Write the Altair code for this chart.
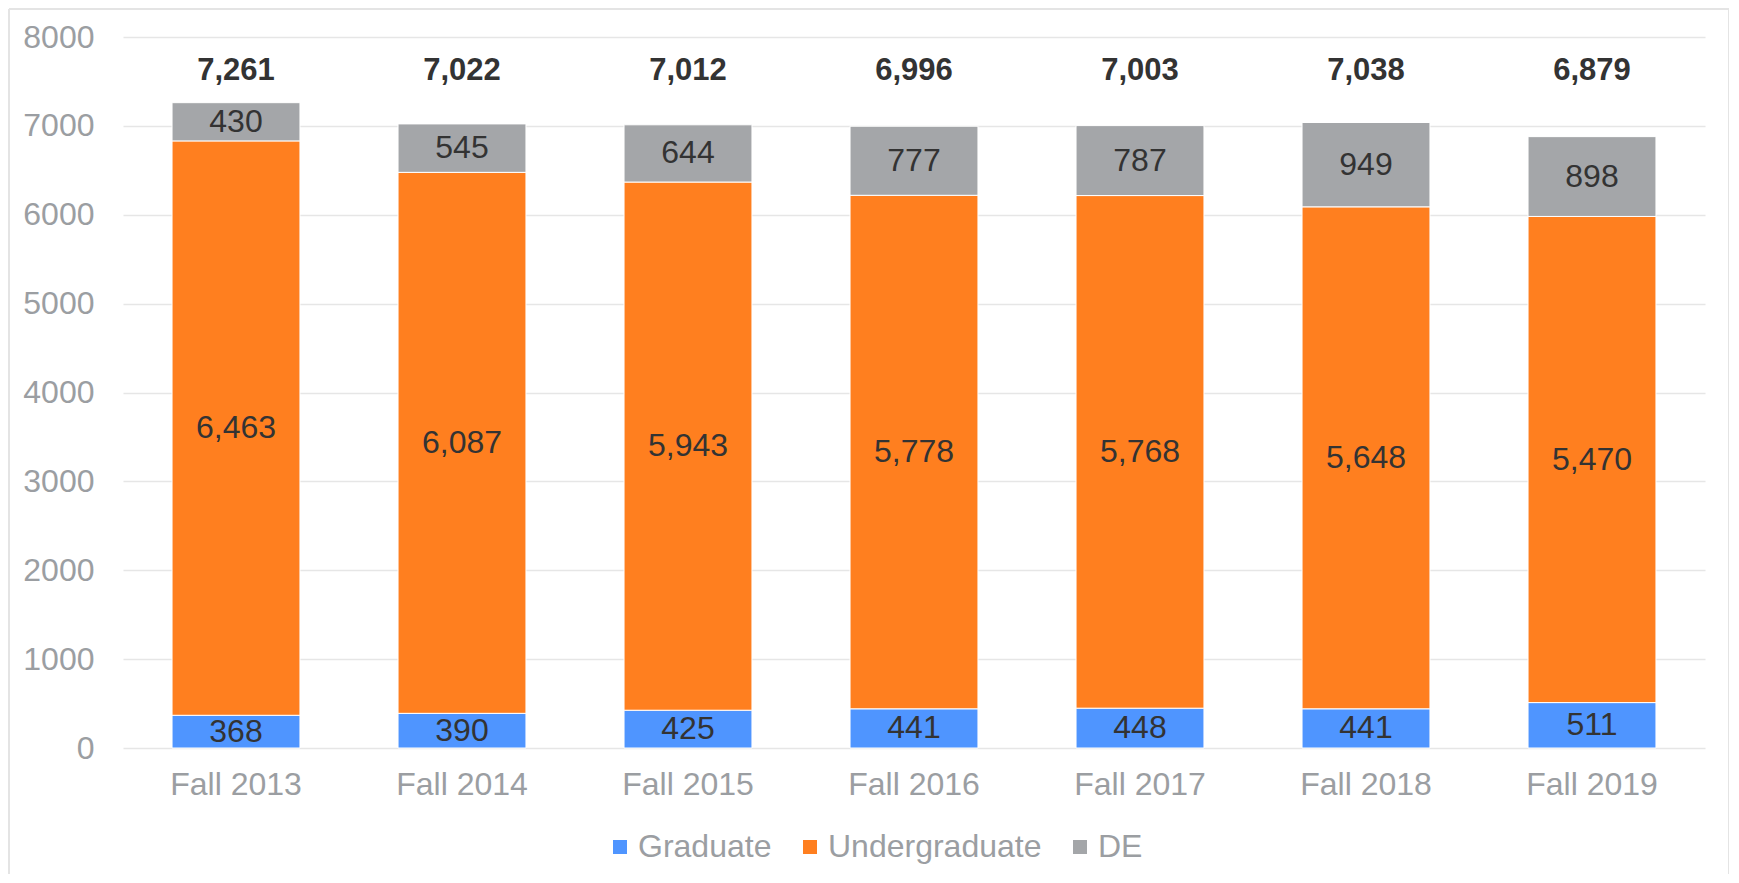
import altair as alt
import pandas as pd

terms = ["Fall 2013", "Fall 2014", "Fall 2015", "Fall 2016", "Fall 2017", "Fall 2018", "Fall 2019"]
series = ["Graduate", "Undergraduate", "DE"]
graduate = [368, 390, 425, 441, 448, 441, 511]
undergraduate = [6463, 6087, 5943, 5778, 5768, 5648, 5470]
de = [430, 545, 644, 777, 787, 949, 898]
totals = [7261, 7022, 7012, 6996, 7003, 7038, 6879]
colors = ["#4F95FF", "#FF7F1F", "#A4A6A9"]

rows = []
for i, t in enumerate(terms):
    for k, (s, vals) in enumerate(zip(series, [graduate, undergraduate, de])):
        rows.append({"term": t, "series": s, "value": vals[i], "order": k})
df = pd.DataFrame(rows)
tot_df = pd.DataFrame({"term": terms, "total": totals})

FONT = "Liberation Sans"
FS = 32

x_enc = alt.X("term:N", sort=terms, title=None,
              scale=alt.Scale(paddingInner=0.434, paddingOuter=0.217),
              axis=alt.Axis(labelAngle=0, labelFontSize=FS, labelColor="#9B9EA2",
                            labelFont=FONT, ticks=False, domain=False, grid=False,
                            labelPadding=21))

base = alt.Chart(df).transform_stack(
    stack="value", as_=["y0", "y1"], groupby=["term"],
    sort=[alt.SortField("order", order="ascending")]
).transform_calculate(mid="(datum.y0 + datum.y1) / 2")

bars = base.mark_bar(stroke="white", strokeWidth=1).encode(
    x=x_enc,
    y=alt.Y("y0:Q", title=None,
            scale=alt.Scale(domain=[0, 8000], nice=False),
            axis=alt.Axis(values=list(range(0, 8001, 1000)), format="d",
                          labelFontSize=FS, labelColor="#9B9EA2", labelFont=FONT,
                          ticks=False, domain=False, gridColor="#E6E6E6",
                          gridWidth=1.6, labelPadding=29)),
    y2="y1:Q",
    color=alt.Color("series:N", sort=series,
                    scale=alt.Scale(domain=series, range=colors),
                    legend=alt.Legend(title=None, orient="none", direction="horizontal",
                                      legendX=481, legendY=794,
                                      labelFontSize=FS, labelColor="#9B9EA2",
                                      labelFont=FONT, labelLimit=0, symbolType="square",
                                      symbolSize=196, symbolStrokeWidth=0,
                                      labelOffset=2, columnPadding=22)),
)

seg_text = base.mark_text(fontSize=FS, font=FONT, color="#333333").encode(
    x=alt.X("term:N", sort=terms),
    y=alt.Y("mid:Q"),
    text=alt.Text("value:Q", format=","),
)

tot_text = alt.Chart(tot_df).mark_text(fontSize=31, font=FONT, fontWeight="bold",
                                       color="#333333").encode(
    x=alt.X("term:N", sort=terms),
    y=alt.datum(7620),
    text=alt.Text("total:Q", format=","),
)

one = pd.DataFrame({"a": [0]})
frame_left = alt.Chart(one).mark_rule(stroke="#E4E4E4", strokeWidth=2).encode(
    x=alt.value(-114), y=alt.value(-28), y2=alt.value(870))
frame_top = alt.Chart(one).mark_rule(stroke="#E4E4E4", strokeWidth=2).encode(
    x=alt.value(-114), x2=alt.value(1606), y=alt.value(-28))
frame_right = alt.Chart(one).mark_rule(stroke="#E4E4E4", strokeWidth=2).encode(
    x=alt.value(1606), y=alt.value(-28), y2=alt.value(870))

chart = alt.layer(frame_left, frame_top, frame_right, bars, seg_text, tot_text).properties(
    width=1582, height=711,
    background="white",
    autosize=alt.AutoSizeParams(type="none"),
    padding={"left": 115, "top": 29, "right": 24, "bottom": 126},
).configure_view(strokeWidth=0, stroke=None)

chart.save("out.html", embed_options={"renderer": "svg", "actions": False})
